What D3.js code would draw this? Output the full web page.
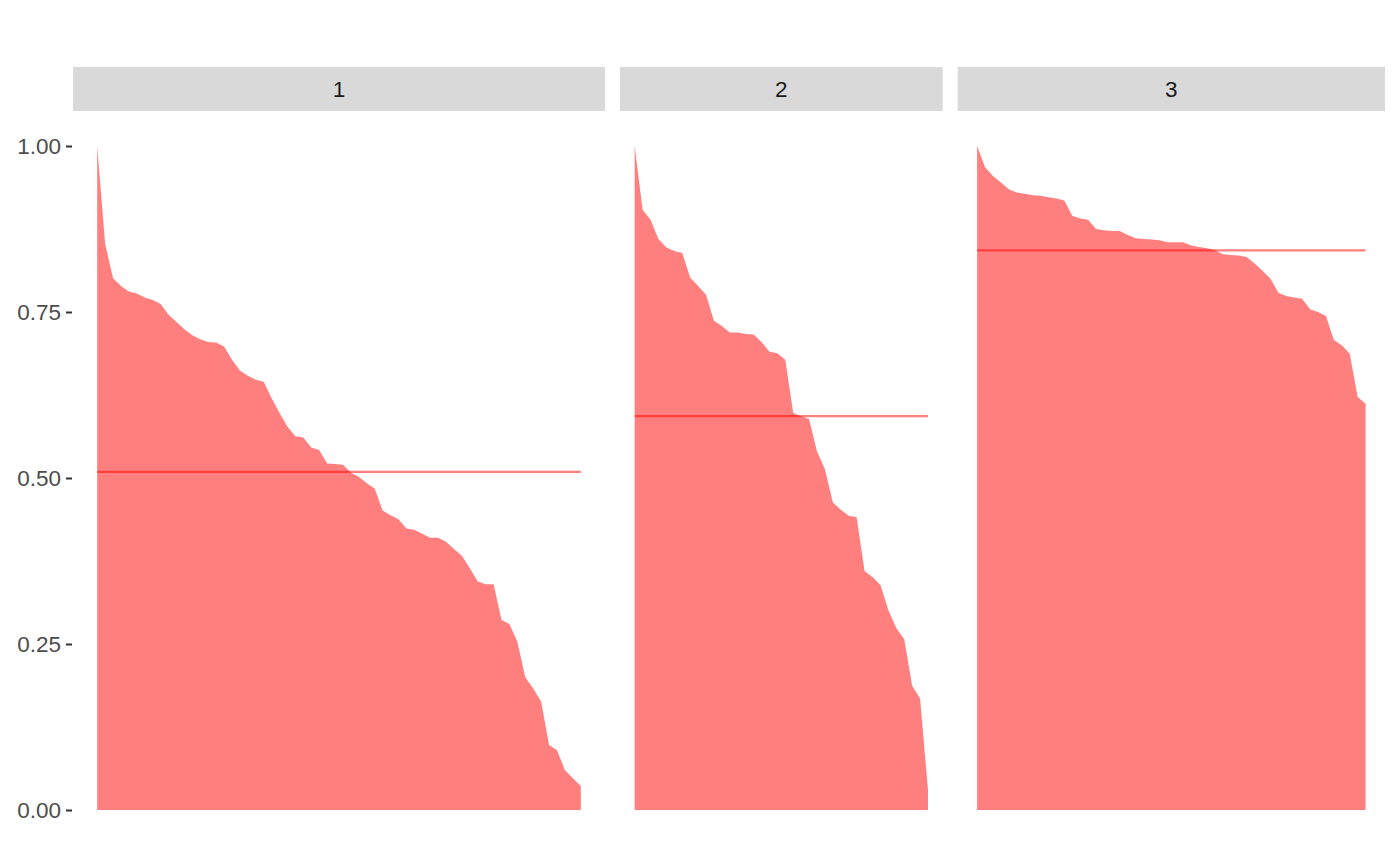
<!DOCTYPE html>
<html>
<head>
<meta charset="utf-8">
<script src="https://cdn.jsdelivr.net/npm/d3@7"></script>
<style>
  html, body { margin: 0; padding: 0; background: #ffffff; }
  svg { display: block; }
</style>
</head>
<body>
<svg id="chart" width="1400" height="866"></svg>
<script>
// ---- data (silhouette widths, sorted within each cluster) ----
const clusterLabels = ["1", "2", "3"];

const cluster1 = [
  1.000, 0.853, 0.801, 0.789, 0.781, 0.778, 0.772, 0.768, 0.762, 0.746,
  0.735, 0.724, 0.715, 0.709, 0.705, 0.704, 0.698, 0.678, 0.662, 0.654,
  0.648, 0.645, 0.620, 0.598, 0.577, 0.563, 0.561, 0.546, 0.542, 0.522,
  0.521, 0.520, 0.508, 0.502, 0.492, 0.484, 0.451, 0.444, 0.438, 0.424,
  0.422, 0.416, 0.410, 0.410, 0.404, 0.393, 0.383, 0.364, 0.344, 0.340,
  0.340, 0.286, 0.280, 0.253, 0.200, 0.183, 0.163, 0.098, 0.090, 0.060,
  0.048, 0.036
];

const cluster2 = [
  1.000, 0.904, 0.889, 0.860, 0.847, 0.842, 0.839, 0.802, 0.789, 0.776,
  0.737, 0.729, 0.719, 0.719, 0.717, 0.716, 0.705, 0.690, 0.688, 0.678,
  0.598, 0.593, 0.589, 0.540, 0.513, 0.463, 0.452, 0.443, 0.441, 0.360,
  0.351, 0.339, 0.301, 0.274, 0.257, 0.187, 0.168, 0.030
];

const cluster3 = [
  1.000, 0.968, 0.955, 0.945, 0.935, 0.930, 0.928, 0.926, 0.925, 0.923,
  0.921, 0.918, 0.895, 0.891, 0.889, 0.875, 0.873, 0.872, 0.872, 0.866,
  0.861, 0.860, 0.859, 0.858, 0.855, 0.855, 0.855, 0.850, 0.848, 0.846,
  0.843, 0.837, 0.836, 0.835, 0.833, 0.823, 0.812, 0.800, 0.779, 0.774,
  0.772, 0.770, 0.754, 0.750, 0.744, 0.708, 0.700, 0.687, 0.622, 0.612
];

const yTicks = [0, 0.25, 0.5, 0.75, 1];

// ---- layout ----
const svg = d3.select("#chart");
const plotLeft = 73, plotRight = 1385, panelGap = 15;
const stripTop = 67, stripBottom = 111;
const yTop = 146, yBottom = 810; // positions of 1.00 and 0.00
const fontFamily = "'Liberation Sans', Arial, Helvetica, sans-serif";

const series = [cluster1, cluster2, cluster3];
const spans = series.map(s => s.length - 1);
const totalSpan = d3.sum(spans);
const usable = plotRight - plotLeft - panelGap * (series.length - 1);

const y = d3.scaleLinear().domain([0, 1]).range([yBottom, yTop]);

// y axis
const yAxis = d3.axisLeft(y)
  .tickValues(yTicks)
  .tickFormat(d3.format(".2f"))
  .tickSize(6)
  .tickPadding(5);

const yG = svg.append("g")
  .attr("transform", `translate(${plotLeft - 1},0)`)
  .call(yAxis);
yG.select(".domain").remove();
yG.selectAll(".tick line").attr("stroke", "#333333").attr("stroke-width", 2);
yG.selectAll(".tick text")
  .attr("fill", "#4D4D4D")
  .style("font-family", fontFamily)
  .style("font-size", "22.5px");

let x0 = plotLeft;
series.forEach((vals, k) => {
  const n = vals.length;
  const w = usable * spans[k] / totalSpan;
  const pad = 0.05 * (n - 1);
  const x = d3.scaleLinear().domain([1 - pad, n + pad]).range([x0, x0 + w]);

  const g = svg.append("g");

  // strip
  g.append("rect")
    .attr("x", x0).attr("y", stripTop)
    .attr("width", w).attr("height", stripBottom - stripTop)
    .attr("fill", "#D9D9D9");
  g.append("text")
    .attr("x", x0 + w / 2).attr("y", (stripTop + stripBottom) / 2)
    .attr("text-anchor", "middle")
    .attr("dominant-baseline", "central")
    .attr("fill", "#1A1A1A")
    .style("font-family", fontFamily)
    .style("font-size", "22.5px")
    .text(clusterLabels[k]);

  const data = vals.map((v, i) => ({ i: i + 1, v }));

  const area = d3.area()
    .x(d => x(d.i))
    .y0(y(0))
    .y1(d => y(d.v));

  g.append("path")
    .datum(data)
    .attr("d", area)
    .attr("fill", "#FF0000")
    .attr("fill-opacity", 0.5);

  const m = d3.mean(vals);
  g.append("line")
    .attr("x1", x(1)).attr("x2", x(n))
    .attr("y1", y(m)).attr("y2", y(m))
    .attr("stroke", "#FF0000")
    .attr("stroke-opacity", 0.5)
    .attr("stroke-width", 2.2);

  x0 += w + panelGap;
});
</script>
</body>
</html>
